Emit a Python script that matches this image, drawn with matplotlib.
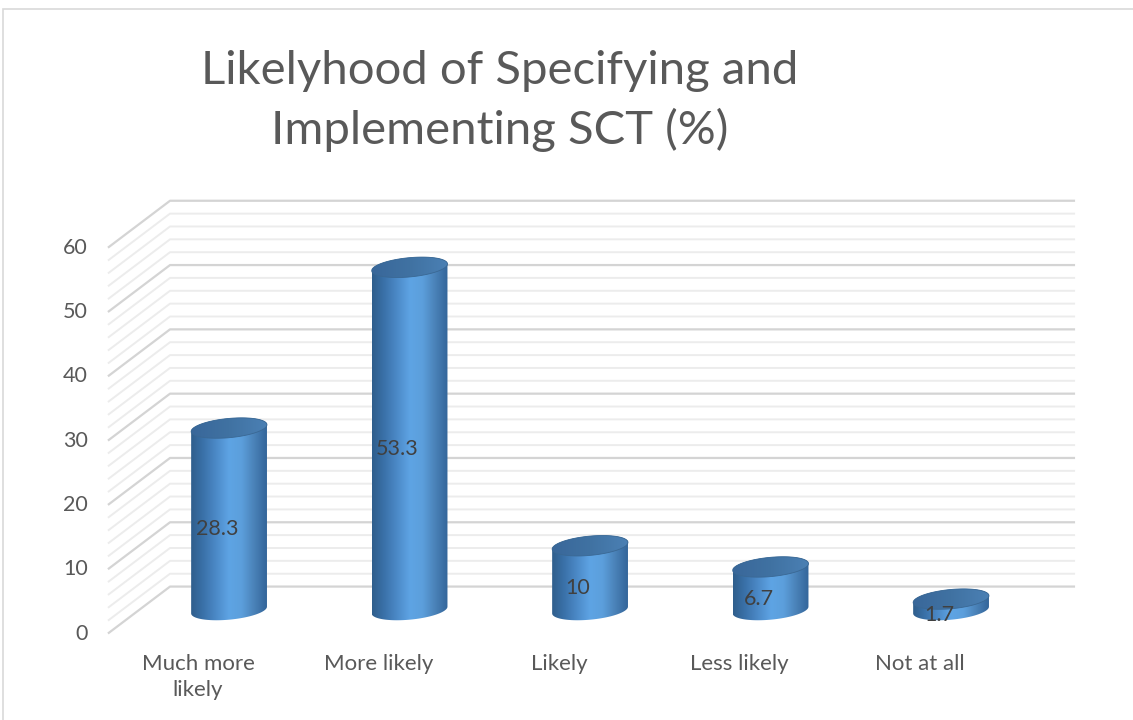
"""
Likelyhood of Specifying and Implementing SCT (%)
Pseudo-3D cylinder column chart (Excel style) drawn with plain matplotlib.
"""

import numpy as np
import matplotlib
matplotlib.use("Agg")
import matplotlib.pyplot as plt
from matplotlib.patches import Polygon, Rectangle
from matplotlib.colors import LinearSegmentedColormap

# ── Data ─────────────────────────────────────────────────────
categories = ["Much more\nlikely", "More likely", "Likely", "Less likely", "Not at all"]
values = [28.3, 53.3, 10, 6.7, 1.7]
value_labels = ["28.3", "53.3", "10", "6.7", "1.7"]
y_ticks = [0, 10, 20, 30, 40, 50, 60]
minor_step = 2

TITLE = "Likelyhood of Specifying and\nImplementing SCT (%)"

# ── Style ────────────────────────────────────────────────────
FONT = "Lato"
TEXT = "#595959"
LABEL = "#404040"
MAJOR = "#d4d4d4"
MINOR = "#ececec"
BODY = LinearSegmentedColormap.from_list(
    "cyl", ["#2f5e8c", "#3b72aa", "#4c8ac8", "#5ea4e4", "#5c9fdc", "#4a82b8", "#33659a"])
CAPMAP = LinearSegmentedColormap.from_list("cap", ["#39679a", "#4072a2", "#4b80b4"])

# depth of the 3D box in data units (half of it, front and back from mid plane)
DX = 0.172      # category units
DY = 3.65       # value units
HALF_W = 0.21   # cylinder radius in category units
ELL_B = 1.5     # ellipse half-height in value units
SHEAR = 2.5     # tilt of the ellipses (value units per category unit)

fig = plt.figure(figsize=(11.33, 7.2), dpi=100)
ax = fig.add_axes([0, 0, 1, 1])
ax.axis("off")

# chart border
fig.patches.append(Rectangle((3 / 1133, -0.1), 1.2, 1.1 - 9 / 720,
                             transform=fig.transFigure, fill=False,
                             ec="#d9d9d9", lw=1.2))

# ── Walls / gridlines ────────────────────────────────────────
x_back_l = -0.327
x_back_r = 4.687
x_front_l = x_back_l - 2 * DX
top = max(y_ticks)
for v in np.arange(0, top + minor_step, minor_step):
    major = v % 10 == 0
    c = MAJOR if major else MINOR
    lw = 1.6 if major else 1.4
    ax.plot([x_front_l, x_back_l, x_back_r], [v - DY, v + DY, v + DY],
            color=c, lw=lw, zorder=1 if major else 0.5, solid_capstyle="butt")

for t in y_ticks:
    ax.text(-0.781, t - DY, str(t), ha="right", va="center",
            fontsize=15.5, color=TEXT, family=FONT)

# ── Cylinders ────────────────────────────────────────────────
th = np.linspace(0, 2 * np.pi, 120)


def ellipse(xc, yc, t):
    dx = HALF_W * np.cos(t)
    return xc + dx, yc + ELL_B * np.sin(t) + SHEAR * dx


def cylinder(xc, h, z):
    # body outline: back arc of top ellipse + front arc of bottom ellipse
    xt, yt = ellipse(xc, h, np.linspace(0, np.pi, 60))
    xb, yb = ellipse(xc, 0, np.linspace(np.pi, 2 * np.pi, 60))
    body = Polygon(np.column_stack([np.r_[xt, xb], np.r_[yt, yb]]),
                   closed=True, fc="none", ec="none", zorder=z)
    ax.add_patch(body)
    grad = np.linspace(0, 1, 256)[None, :]
    lo, hi = -ELL_B - SHEAR * HALF_W, h + ELL_B + SHEAR * HALF_W
    im = ax.imshow(grad, cmap=BODY, aspect="auto", zorder=z,
                   extent=[xc - HALF_W, xc + HALF_W, lo, hi],
                   interpolation="bilinear")
    im.set_clip_path(body)
    ex, ey = ellipse(xc, h, th)
    cap = Polygon(np.column_stack([ex, ey]), closed=True, fc="none",
                  ec="#3a6894", lw=0.6, zorder=z + 0.2)
    ax.add_patch(cap)
    cim = ax.imshow(grad, cmap=CAPMAP, aspect="auto", zorder=z + 0.1,
                    extent=[xc - HALF_W, xc + HALF_W, ey.min(), ey.max()],
                    interpolation="bilinear")
    cim.set_clip_path(cap)


for i, v in enumerate(values):
    cylinder(i, v, 3 + i)

for i, (v, lab) in enumerate(zip(values, value_labels)):
    ax.text(i - 0.066, v / 2 - 1.6, lab, ha="center", va="center",
            fontsize=15.5, color=LABEL, family=FONT, zorder=20)

# ── Category labels (front edge) ─────────────────────────────
for i, cat in enumerate(categories):
    ax.text(i - DX, -6.9, cat, ha="center", va="top", fontsize=16,
            color=TEXT, family=FONT, linespacing=1.35)

ax.set_xlim(-1.269, 5.008)
ax.set_ylim(-17.1, 94.87)

fig.text(500 / 1133, 1 - 50 / 720, TITLE, ha="center", va="top",
         fontsize=34, color=TEXT, family=FONT, linespacing=1.45)

fig.savefig("out.png", dpi=100, facecolor="white")
